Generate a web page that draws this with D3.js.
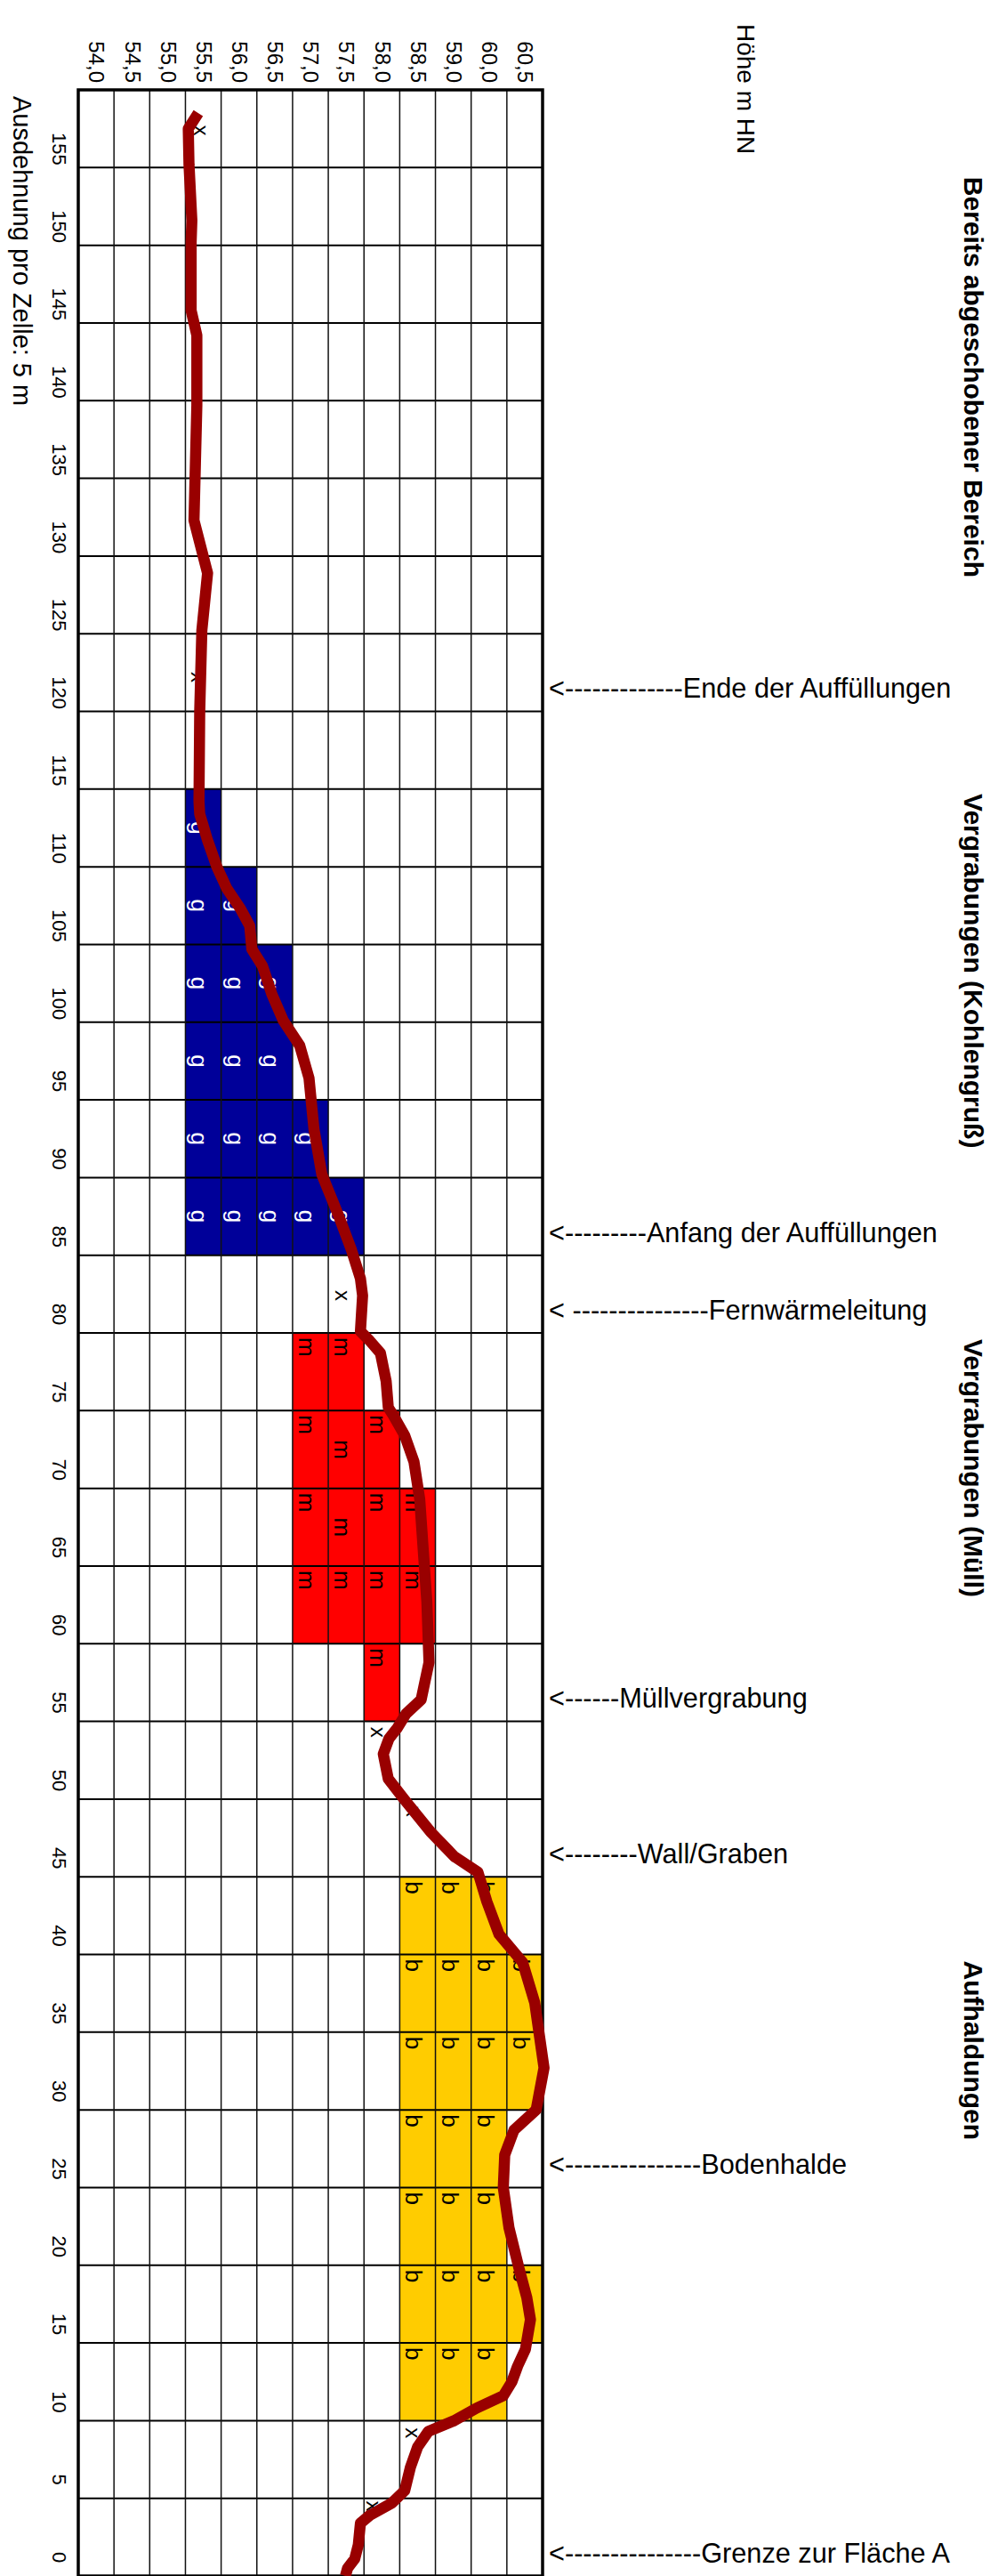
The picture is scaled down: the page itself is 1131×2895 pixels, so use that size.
<!DOCTYPE html>
<html><head><meta charset="utf-8">
<script src="https://cdn.jsdelivr.net/npm/d3@7"></script>
<style>
body{margin:0;background:#fff}
svg{display:block}
text{font-family:"Liberation Sans",Arial,Helvetica,sans-serif}
</style>
</head><body>
<svg id="c" width="1131" height="2895"></svg>
<script>
// ---------- data ----------
const positions = [155,150,145,140,135,130,125,120,115,110,105,100,95,90,85,80,75,70,65,60,55,50,45,40,35,30,25,20,15,10,5,0];
const heightLabels = ["54,0","54,5","55,0","55,5","56,0","56,5","57,0","57,5","58,0","58,5","59,0","60,0","60,5"];
const heightValues = [54.0,54.5,55.0,55.5,56.0,56.5,57.0,57.5,58.0,58.5,59.0,60.0,60.5];

// filled cells: [position (start of 5 m cell), height label]
const kohleCells = [
  [110,"55,5"],
  [105,"55,5"],[105,"56,0"],
  [100,"55,5"],[100,"56,0"],[100,"56,5"],
  [95,"55,5"],[95,"56,0"],[95,"56,5"],
  [90,"55,5"],[90,"56,0"],[90,"56,5"],[90,"57,0"],
  [85,"55,5"],[85,"56,0"],[85,"56,5"],[85,"57,0"],[85,"57,5"]
];
const muellCells = [
  [75,"57,0"],[75,"57,5"],
  [70,"57,0"],[70,"57,5"],[70,"58,0"],
  [65,"57,0"],[65,"57,5"],[65,"58,0"],[65,"58,5"],
  [60,"57,0"],[60,"57,5"],[60,"58,0"],[60,"58,5"],
  [55,"58,0"]
];
const muellCentred = [[70,"57,5"],[65,"57,5"]];
const haldeCells = [
  [40,"58,5"],[40,"59,0"],[40,"60,0"],
  [35,"58,5"],[35,"59,0"],[35,"60,0"],[35,"60,5"],
  [30,"58,5"],[30,"59,0"],[30,"60,0"],[30,"60,5"],
  [25,"58,5"],[25,"59,0"],[25,"60,0"],
  [20,"58,5"],[20,"59,0"],[20,"60,0"],
  [15,"58,5"],[15,"59,0"],[15,"60,0"],[15,"60,5"],
  [10,"58,5"],[10,"59,0"],[10,"60,0"]
];

// terrain profile (hand-drawn line): position in m, height in m HN
const profilePos = [158.5,157.5,155.2,151.6,150.2,145.8,144.2,139.7,136.0,132.3,128.9,125.2,120.0,114.2,113.4,111.7,110.0,108.6,107.3,106.2,104.7,103.6,101.8,100.1,98.5,96.4,93.1,90.2,87.6,85.4,83.5,82.4,80.1,79.5,78.7,76.9,75.2,74.7,73.4,71.7,69.3,66.0,62.7,58.8,56.4,55.5,54.6,53.9,52.9,51.3,50.0,47.9,46.3,45.3,43.4,41.3,39.5,36.9,32.7,30.0,28.7,27.1,25.0,22.4,19.8,17.9,16.5,14.6,13.5,12.5,11.6,10.8,10.0,9.3,8.3,7.0,5.5,4.7,3.9,3.4,2.0,1.1,0.5,0.0];
const profileHeight = [55.43,55.29,55.30,55.34,55.33,55.33,55.41,55.41,55.39,55.37,55.56,55.48,55.45,55.44,55.45,55.56,55.69,55.83,56.02,56.15,56.18,56.33,56.46,56.62,56.85,56.98,57.05,57.16,57.39,57.57,57.70,57.73,57.70,57.83,57.98,58.06,58.09,58.16,58.32,58.45,58.53,58.58,58.63,58.66,58.55,58.34,58.22,58.10,58.02,58.09,58.31,58.68,59.03,59.69,59.94,60.14,60.47,60.64,60.77,60.66,60.35,60.22,60.20,60.28,60.42,60.53,60.58,60.51,60.40,60.32,60.20,59.65,59.03,58.65,58.50,58.40,58.32,58.14,57.83,57.70,57.67,57.62,57.52,57.49];

// measured points (x marks)
const markerPos = [157.4,122.2,82.4,54.3,49.2,9.2,4.5];
const markerHeight = [55.46,55.42,57.44,57.93,58.43,58.42,57.88];

const annotationTexts = [
  "<-------------Ende der Auffüllungen",
  "<---------Anfang der Auffüllungen",
  "< ---------------Fernwärmeleitung",
  "<------Müllvergrabung",
  "<--------Wall/Graben",
  "<---------------Bodenhalde",
  "<---------------Grenze zur Fläche A"
];
const annotationPos = [120,85,80,55,45,25,0];

const sectionTitles = ["Bereits abgeschobener Bereich","Vergrabungen (Kohlengruß)","Vergrabungen (Müll)","Aufhaldungen"];
const sectionStart = [154.4,114.7,79.6,39.6];

const yTitle = "Höhe m HN";
const xTitle = "Ausdehnung pro Zelle: 5 m";

// ---------- layout ----------
const plotLeft = 88, plotRight = 610, plotTop = 101, plotBottom = 2895;
const plotLen = plotBottom - plotTop;   // along the position axis
const plotDepth = plotRight - plotLeft; // along the height axis

const svg = d3.select("#c");
svg.append("rect").attr("width",1131).attr("height",2895).attr("fill","#fff");

// the original chart is drawn landscape and turned 90° clockwise
const g = svg.append("g").attr("transform", `translate(${plotRight},${plotTop}) rotate(90)`);

const xPos = d3.scaleLinear().domain([160, 0]).range([0, plotLen]);
const rowBand = d3.scaleBand().domain(positions).range([0, plotLen]);
const colBand = d3.scaleBand().domain(heightLabels.slice().reverse()).range([0, plotDepth]);
const yH = d3.scaleLinear().domain(heightValues)
  .range(heightLabels.map(l => colBand(l) + colBand.bandwidth()/2));

const bw = rowBand.bandwidth(), bh = colBand.bandwidth();

function drawCells(cells, fill){
  g.append("g").selectAll("rect").data(cells).join("rect")
    .attr("x", d => rowBand(d[0])).attr("y", d => colBand(d[1]))
    .attr("width", bw).attr("height", bh).attr("fill", fill);
}
drawCells(kohleCells, "#000099");
drawCells(muellCells, "#ff0000");
drawCells(haldeCells, "#ffcc00");

// grid
const rowEdges = positions.map(p => xPos(p + 5)).concat([xPos(0)]);
g.append("g").selectAll("line").data(rowEdges).join("line")
  .attr("x1", d => d).attr("x2", d => d).attr("y1", 0).attr("y2", plotDepth)
  .attr("stroke", "#000").attr("stroke-width", 2);
const colEdges = colBand.domain().map(l => colBand(l)).concat([plotDepth]);
g.append("g").selectAll("line").data(colEdges).join("line")
  .attr("x1", 0).attr("x2", plotLen).attr("y1", d => d).attr("y2", d => d)
  .attr("stroke", "#111").attr("stroke-width", 1.5);
g.append("rect").attr("x",0).attr("y",0).attr("width",plotLen).attr("height",plotDepth)
  .attr("fill","none").attr("stroke","#000").attr("stroke-width",3.5);

// cell letters
const isCentred = (d) => muellCentred.some(c => c[0]===d[0] && c[1]===d[1]);
function drawLetters(cells, letter, colour, centred){
  g.append("g").selectAll("text").data(cells).join("text")
    .attr("x", d => (centred || isCentred(d)) ? rowBand(d[0]) + bw/2 : rowBand(d[0]) + 5)
    .attr("y", d => colBand(d[1]) + bh - 7)
    .attr("text-anchor", d => (centred || isCentred(d)) ? "middle" : "start")
    .attr("font-size", 26).attr("fill", colour).text(letter);
}
drawLetters(kohleCells, "g", "#fff", true);
drawLetters(muellCells, "m", "#000", false);
drawLetters(haldeCells, "b", "#000", false);

// axes
const axH = g.append("g").call(d3.axisLeft(colBand).tickSize(0).tickPadding(8));
axH.select(".domain").remove();
axH.selectAll("text").attr("font-size", 24).attr("fill","#000")
  .attr("font-family","'Liberation Sans',Arial,sans-serif");

const axP = g.append("g").attr("transform", `translate(${bw*0.26},${plotDepth})`)
  .call(d3.axisBottom(rowBand).tickSize(0).tickPadding(13));
axP.select(".domain").remove();
axP.selectAll("text").attr("font-size", 22).attr("fill","#000")
  .attr("font-family","'Liberation Sans',Arial,sans-serif");

// x markers
g.append("g").selectAll("text").data(markerPos).join("text")
  .attr("x", (d,i) => xPos(d)).attr("y", (d,i) => yH(markerHeight[i]))
  .attr("dy","0.3em").attr("text-anchor","middle").attr("font-size",24).text("x");

// profile line
const pts = profilePos.map((p,i) => [p, profileHeight[i]]);
g.append("path").datum(pts)
  .attr("d", d3.line().x(d => xPos(d[0])).y(d => yH(d[1])))
  .attr("fill","none").attr("stroke","#990000").attr("stroke-width",12.5)
  .attr("stroke-linejoin","round");

// titles (in the turned frame)
g.append("text").attr("x", -74).attr("y", plotRight - 829)
  .attr("font-size", 28).text(yTitle);
g.append("text").attr("x", 108 - plotTop).attr("y", plotRight - 15)
  .attr("font-size", 29).text(xTitle);
g.append("g").selectAll("text").data(sectionTitles).join("text")
  .attr("x", (d,i) => xPos(sectionStart[i])).attr("y", plotRight - 1084)
  .attr("font-size", 30).attr("font-weight","bold").text(d => d);

// annotations (horizontal)
svg.append("g").selectAll("text").data(annotationTexts).join("text")
  .attr("x", 617).attr("y", (d,i) => plotTop + xPos(annotationPos[i] + 1.5))
  .attr("dy","0.36em").attr("font-size", 30.7).text(d => d);
</script>
</body></html>
